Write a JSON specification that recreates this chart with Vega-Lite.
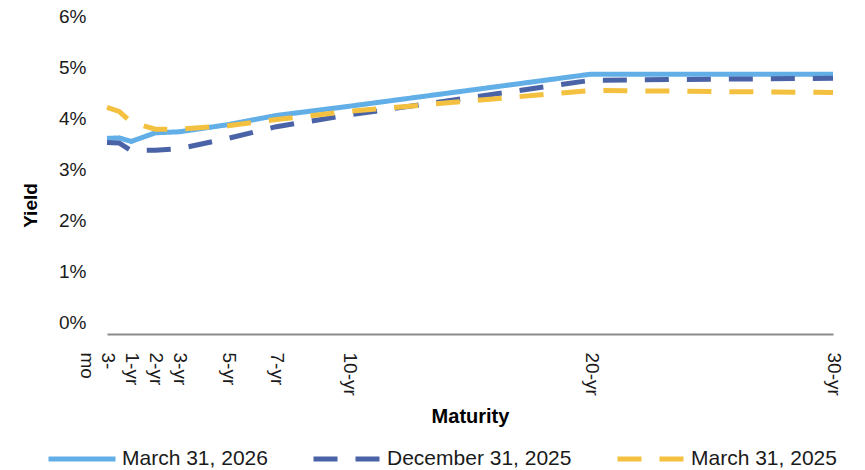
{
  "$schema": "https://vega.github.io/schema/vega-lite/v6.json",
  "width": 726,
  "height": 306,
  "autosize": {"type": "none"},
  "padding": {"left": 107, "top": 16, "right": 32, "bottom": 148},
  "background": "white",
  "config": {
    "view": {"stroke": null},
    "font": "Liberation Sans",
    "legend": {
      "symbolType": "stroke",
      "symbolSize": 4489,
      "symbolStrokeWidth": 5,
      "labelFontSize": 21,
      "labelFont": "Liberation Sans",
      "labelColor": "#1a1a1a",
      "labelOffset": 4,
      "columnPadding": 35,
      "padding": 0,
      "labelLimit": 0
    }
  },
  "data": {
    "values": [
      {"series": "March 31, 2026", "t": 0, "yield": 3.60},
      {"series": "March 31, 2026", "t": 0.5, "yield": 3.61},
      {"series": "March 31, 2026", "t": 1, "yield": 3.54},
      {"series": "March 31, 2026", "t": 2, "yield": 3.71},
      {"series": "March 31, 2026", "t": 3, "yield": 3.73},
      {"series": "March 31, 2026", "t": 5, "yield": 3.87},
      {"series": "March 31, 2026", "t": 7, "yield": 4.05},
      {"series": "March 31, 2026", "t": 10, "yield": 4.23},
      {"series": "March 31, 2026", "t": 20, "yield": 4.86},
      {"series": "March 31, 2026", "t": 30, "yield": 4.86},
      {"series": "December 31, 2025", "t": 0, "yield": 3.52},
      {"series": "December 31, 2025", "t": 0.5, "yield": 3.51},
      {"series": "December 31, 2025", "t": 1, "yield": 3.36},
      {"series": "December 31, 2025", "t": 2, "yield": 3.37},
      {"series": "December 31, 2025", "t": 3, "yield": 3.40},
      {"series": "December 31, 2025", "t": 5, "yield": 3.60},
      {"series": "December 31, 2025", "t": 7, "yield": 3.83},
      {"series": "December 31, 2025", "t": 10, "yield": 4.06},
      {"series": "December 31, 2025", "t": 20, "yield": 4.74},
      {"series": "December 31, 2025", "t": 30, "yield": 4.78},
      {"series": "March 31, 2025", "t": 0, "yield": 4.21},
      {"series": "March 31, 2025", "t": 0.5, "yield": 4.13},
      {"series": "March 31, 2025", "t": 1, "yield": 3.92},
      {"series": "March 31, 2025", "t": 2, "yield": 3.78},
      {"series": "March 31, 2025", "t": 3, "yield": 3.78},
      {"series": "March 31, 2025", "t": 5, "yield": 3.85},
      {"series": "March 31, 2025", "t": 7, "yield": 3.97},
      {"series": "March 31, 2025", "t": 10, "yield": 4.13},
      {"series": "March 31, 2025", "t": 20, "yield": 4.54},
      {"series": "March 31, 2025", "t": 30, "yield": 4.50}
    ]
  },
  "mark": {"type": "line", "strokeWidth": 5, "strokeCap": "butt"},
  "encoding": {
    "x": {
      "field": "t",
      "type": "quantitative",
      "scale": {"domain": [0, 30], "nice": false, "zero": false},
      "axis": {
        "title": "Maturity",
        "values": [0, 1, 2, 3, 5, 7, 10, 20, 30],
        "labelExpr": "datum.value == 0 ? ['3-', 'mo'] : datum.value + '-yr'",
        "labelAngle": 90,
        "labelAlign": "left",
        "labelBaseline": "middle",
        "labelFlush": false,
        "labelOverlap": false,
        "labelBound": false,
        "labelPadding": 18,
        "labelFontSize": 19,
        "labelColor": "#1a1a1a",
        "labelLineHeight": 21,
        "ticks": false,
        "tickSize": 0,
        "grid": false,
        "domainColor": "#8a8a8a",
        "domainWidth": 2,
        "offset": 12,
        "titleFontSize": 20,
        "titleFontWeight": "bold",
        "titlePadding": 11,
        "titleColor": "#000000"
      }
    },
    "y": {
      "field": "yield",
      "type": "quantitative",
      "scale": {"domain": [0, 6], "nice": false},
      "axis": {
        "title": "Yield",
        "values": [0, 1, 2, 3, 4, 5, 6],
        "labelExpr": "datum.value + '%'",
        "domain": false,
        "ticks": false,
        "tickSize": 0,
        "grid": false,
        "labelPadding": 21,
        "labelFontSize": 19,
        "labelColor": "#1a1a1a",
        "titleX": -77,
        "titleY": 189,
        "titleAngle": 270,
        "titleAlign": "center",
        "titleBaseline": "middle",
        "titleFontSize": 19,
        "titleFontWeight": "bold",
        "titleColor": "#000000"
      }
    },
    "color": {
      "field": "series",
      "type": "nominal",
      "scale": {
        "domain": ["March 31, 2026", "December 31, 2025", "March 31, 2025"],
        "range": ["#62aee6", "#4a63a7", "#f3c13f"]
      },
      "legend": {"orient": "none", "legendX": -61, "legendY": 407, "direction": "horizontal", "title": null}
    },
    "strokeDash": {
      "field": "series",
      "type": "nominal",
      "scale": {
        "domain": ["March 31, 2026", "December 31, 2025", "March 31, 2025"],
        "range": [[1, 0], [24, 18], [24, 18]]
      },
      "legend": {"orient": "none", "legendX": -61, "legendY": 407, "direction": "horizontal", "title": null}
    }
  }
}
